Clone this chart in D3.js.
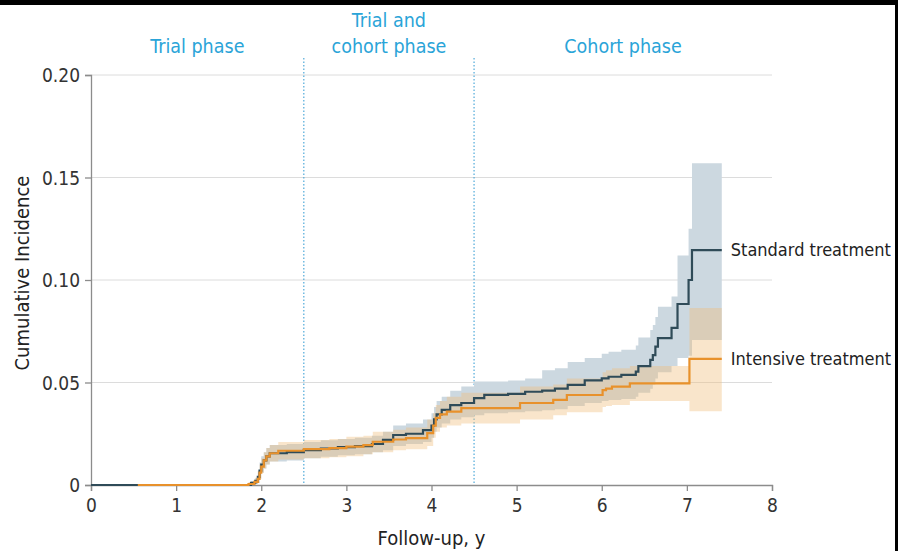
<!DOCTYPE html>
<html>
<head>
<meta charset="utf-8">
<script src="https://cdn.jsdelivr.net/npm/d3@7"></script>
<style>
  html, body { margin: 0; padding: 0; background: #fff; }
  svg { display: block; }
  text { font-family: "Liberation Sans Narrow", "DejaVu Sans Condensed", "Roboto", sans-serif; }
</style>
</head>
<body>
<svg id="chart" width="898" height="551"></svg>
<script>
// Cumulative incidence, step estimates with 95% confidence bands
const xTicks = [0, 1, 2, 3, 4, 5, 6, 7, 8];
const yTicks = [0, 0.05, 0.10, 0.15, 0.20];
const yTickLabels = ["0", "0.05", "0.10", "0.15", "0.20"];
const followUpEnd = 7.41;

const phaseLabels = [
  { lines: ["Trial phase"], at: 1.25 },
  { lines: ["Trial and", "cohort phase"], at: 3.5 },
  { lines: ["Cohort phase"], at: 6.25 }
];
const phaseBounds = [2.5, 4.5];

// Standard treatment
const stdTime = [0, 1.88, 1.93, 1.96, 1.98, 2.00, 2.03, 2.06, 2.10, 2.30, 2.50, 2.70, 2.90, 3.10, 3.30, 3.43, 3.55, 3.70, 3.90, 4.00, 4.03, 4.06, 4.12, 4.22, 4.35, 4.50, 4.62, 4.90, 5.10, 5.30, 5.45, 5.60, 5.80, 6.00, 6.08, 6.23, 6.40, 6.43, 6.57, 6.60, 6.63, 6.66, 6.82, 6.89, 7.02, 7.06];
const stdEst  = [0, 0.001, 0.002, 0.004, 0.007, 0.010, 0.012, 0.014, 0.0155, 0.016, 0.017, 0.0178, 0.0185, 0.019, 0.020, 0.022, 0.0244, 0.025, 0.0268, 0.029, 0.032, 0.0345, 0.0366, 0.039, 0.040, 0.0424, 0.044, 0.0445, 0.0455, 0.046, 0.047, 0.0488, 0.051, 0.052, 0.0528, 0.0537, 0.0553, 0.058, 0.061, 0.0634, 0.0675, 0.0716, 0.0766, 0.0883, 0.100, 0.1146];
const stdLow  = [0, 0, 0.0005, 0.001, 0.003, 0.006, 0.008, 0.010, 0.0115, 0.012, 0.013, 0.0138, 0.0145, 0.015, 0.016, 0.017, 0.019, 0.020, 0.021, 0.023, 0.026, 0.028, 0.030, 0.032, 0.033, 0.034, 0.035, 0.0355, 0.036, 0.0365, 0.037, 0.0385, 0.040, 0.041, 0.0415, 0.042, 0.043, 0.045, 0.047, 0.049, 0.052, 0.055, 0.058, 0.062, 0.063, 0.0707];
const stdHigh = [0, 0.002, 0.0035, 0.007, 0.011, 0.014, 0.016, 0.018, 0.0195, 0.020, 0.021, 0.0218, 0.0225, 0.023, 0.024, 0.026, 0.029, 0.030, 0.032, 0.035, 0.038, 0.041, 0.043, 0.046, 0.048, 0.0505, 0.0505, 0.051, 0.052, 0.056, 0.057, 0.060, 0.062, 0.064, 0.065, 0.066, 0.068, 0.072, 0.0756, 0.078, 0.082, 0.087, 0.092, 0.112, 0.125, 0.157];

// Intensive treatment
const intTime = [0.55, 1.85, 1.92, 1.96, 1.98, 2.00, 2.03, 2.06, 2.10, 2.20, 2.50, 2.80, 3.00, 3.20, 3.31, 3.55, 3.70, 3.95, 4.02, 4.05, 4.10, 4.18, 4.35, 5.04, 5.43, 5.59, 6.01, 6.05, 6.12, 6.33, 7.03];
const intEst  = [0, 0.0005, 0.0015, 0.003, 0.006, 0.009, 0.012, 0.014, 0.0155, 0.0167, 0.0175, 0.018, 0.0187, 0.0195, 0.0211, 0.0222, 0.0229, 0.0253, 0.029, 0.0327, 0.0345, 0.0358, 0.0375, 0.040, 0.0415, 0.0439, 0.0463, 0.047, 0.048, 0.0496, 0.0615];
const intLow  = [0, 0, 0.0005, 0.001, 0.003, 0.006, 0.008, 0.010, 0.0115, 0.0125, 0.013, 0.0135, 0.014, 0.015, 0.016, 0.017, 0.0175, 0.019, 0.023, 0.026, 0.028, 0.029, 0.030, 0.032, 0.034, 0.0355, 0.038, 0.0385, 0.039, 0.041, 0.036];
const intHigh = [0, 0.0015, 0.003, 0.006, 0.010, 0.013, 0.016, 0.018, 0.0195, 0.021, 0.022, 0.0225, 0.0235, 0.024, 0.026, 0.027, 0.028, 0.032, 0.035, 0.039, 0.041, 0.043, 0.045, 0.048, 0.049, 0.052, 0.055, 0.056, 0.057, 0.058, 0.0863];

const seriesNames = ["Standard treatment", "Intensive treatment"];

const svg = d3.select("#chart");
const margin = { left: 91, right: 126, top: 75, bottom: 66 };
const W = 898, H = 551;

const x = d3.scaleLinear().domain([0, 8]).range([margin.left, W - margin.right]);
const y = d3.scaleLinear().domain([0, 0.20]).range([H - margin.bottom, margin.top]);

// frame edges
svg.append("rect").attr("x", 0).attr("y", 0).attr("width", W).attr("height", 5).attr("fill", "#000");
svg.append("rect").attr("x", 895).attr("y", 0).attr("width", 3).attr("height", H).attr("fill", "#000");

// horizontal gridlines
svg.append("g").selectAll("line")
  .data(yTicks.filter(d => d > 0))
  .join("line")
  .attr("x1", x(0)).attr("x2", x(8))
  .attr("y1", d => y(d)).attr("y2", d => y(d))
  .attr("stroke", "#dcdcdc").attr("stroke-width", 1);

// phase boundaries
svg.append("g").selectAll("line")
  .data(phaseBounds)
  .join("line")
  .attr("x1", d => x(d)).attr("x2", d => x(d))
  .attr("y1", 58).attr("y2", y(0))
  .attr("stroke", "#4fa9d9").attr("stroke-width", 1.2)
  .attr("stroke-dasharray", "1.5,2");

// phase labels
const phaseG = svg.append("g").attr("fill", "#2aa4d8").attr("font-size", 19.5).attr("text-anchor", "middle");
phaseLabels.forEach(p => {
  p.lines.forEach((ln, i) => {
    phaseG.append("text")
      .attr("x", x(p.at))
      .attr("y", 53 - (p.lines.length - 1 - i) * 26)
      .text(ln);
  });
});

function rows(t, e, lo, hi) {
  const r = t.map((d, i) => ({ t: d, e: e[i], lo: lo[i], hi: hi[i] }));
  const last = r[r.length - 1];
  r.push({ t: followUpEnd, e: last.e, lo: last.lo, hi: last.hi });
  return r;
}
const stdRows = rows(stdTime, stdEst, stdLow, stdHigh);
const intRows = rows(intTime, intEst, intLow, intHigh);

const band = d3.area().curve(d3.curveStepAfter)
  .x(d => x(d.t)).y0(d => y(d.lo)).y1(d => y(d.hi));
const line = d3.line().curve(d3.curveStepAfter)
  .x(d => x(d.t)).y(d => y(d.e));

svg.append("path").datum(stdRows).attr("d", band).attr("fill", "#ccd8e0");
svg.append("path").datum(intRows).attr("d", band).attr("fill", "#f0bf7c").attr("fill-opacity", 0.4);

// axes
const xAxis = d3.axisBottom(x).tickValues(xTicks).tickSize(6).tickPadding(5).tickFormat(d3.format("d"));
const gx = svg.append("g").attr("transform", `translate(0,${y(0)})`).call(xAxis);
const yAxis = d3.axisLeft(y).tickValues(yTicks).tickSize(6).tickPadding(5).tickFormat((d, i) => yTickLabels[i]);
const gy = svg.append("g").attr("transform", `translate(${x(0)},0)`).call(yAxis);
[gx, gy].forEach(g => {
  g.select(".domain").attr("stroke", "#8c8c8c").attr("stroke-width", 1.3);
  g.selectAll(".tick line").attr("stroke", "#8c8c8c").attr("stroke-width", 1.3);
  g.selectAll(".tick text").attr("fill", "#333").attr("font-size", 19)
    .attr("font-family", "'Liberation Sans Narrow', 'DejaVu Sans Condensed', sans-serif");
});
gx.selectAll(".tick text").attr("dy", "0.85em");
gy.selectAll(".tick text").attr("dy", "0.35em");

// curves
svg.append("path").datum(stdRows).attr("d", line)
  .attr("fill", "none").attr("stroke", "#2f4b58").attr("stroke-width", 2.2);
svg.append("path").datum(intRows).attr("d", line)
  .attr("fill", "none").attr("stroke", "#e8912b").attr("stroke-width", 2.2);

// series labels at curve ends
const endRows = [stdRows[stdRows.length - 1], intRows[intRows.length - 1]];
svg.append("g").selectAll("text")
  .data(endRows)
  .join("text")
  .attr("x", x(followUpEnd) + 9)
  .attr("y", d => y(d.e))
  .attr("dy", "0.35em")
  .attr("font-size", 18)
  .attr("fill", "#222")
  .text((d, i) => seriesNames[i]);

// axis titles
svg.append("text")
  .attr("x", (x(0) + x(8)) / 2).attr("y", 545)
  .attr("text-anchor", "middle").attr("font-size", 20).attr("fill", "#222")
  .text("Follow-up, y");
svg.append("text")
  .attr("transform", `translate(29,${(y(0) + y(0.2)) / 2 - 7}) rotate(-90)`)
  .attr("text-anchor", "middle").attr("font-size", 20).attr("fill", "#222")
  .text("Cumulative Incidence");
</script>
</body>
</html>
